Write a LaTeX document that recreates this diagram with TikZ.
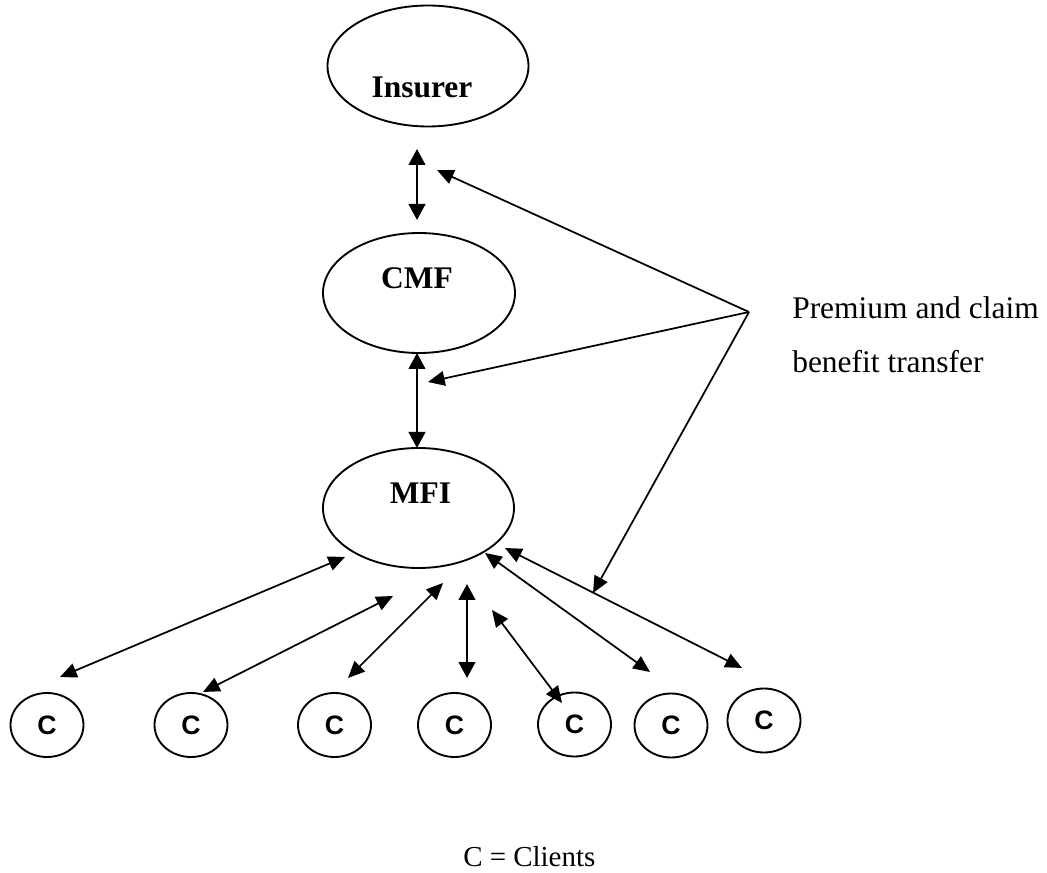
\documentclass[tikz,border=0pt]{standalone}
\usepackage{fontspec}
\setmainfont{Liberation Serif}
\newfontfamily\arialfont{Liberation Sans}
\usetikzlibrary{shapes.geometric,arrows.meta}
\tikzset{
  ell/.style={draw, ellipse, line width=1.4pt, inner sep=0pt, outer sep=0pt},
  bigell/.style={ell, minimum width=144pt, minimum height=90pt},
  client/.style={ell, minimum width=54.75pt, minimum height=48pt,
    font=\arialfont\bfseries\fontsize{20}{24}\selectfont},
  title/.style={font=\bfseries\fontsize{23.6}{28}\selectfont, inner sep=0pt, anchor=base},
  txt/.style={font=\fontsize{23.6}{28}\selectfont, inner sep=0pt, anchor=base west},
  link/.style={line width=1.3pt, {Triangle[length=12.5pt,width=11pt]}-{Triangle[length=12.5pt,width=11pt]}},
  vlink/.style={line width=1.6pt, {Triangle[length=12pt,width=12.5pt]}-{Triangle[length=12pt,width=12.5pt]}},
  pointer/.style={line width=1.3pt, -{Triangle[length=12.5pt,width=11pt]}}
}
\begin{document}
\begin{tikzpicture}[x=0.75pt,y=-0.75pt]
\useasboundingbox (0,0) rectangle (1047,873);
% main ellipses
\node[bigell, minimum width=150.75pt, minimum height=90.75pt] (ins) at (428,66) {};
\node[title] (inst) at (422,98) {Insurer};
\node[bigell] (cmf) at (419,293) {};
\node[title] (cmft) at (417,289) {CMF};
\node[bigell, minimum width=143.25pt] (mfi) at (418.5,508) {};
\node[title] (mfit) at (420.5,504) {MFI};
% clients
\node[client] (c1) at (47,725) {C};
\node[client] (c2) at (191,725) {C};
\node[client] (c3) at (334.5,725) {C};
\node[client] (c4) at (454.5,725) {C};
\node[client] (c5) at (574.5,724.5) {C};
\node[client] (c6) at (671,725.5) {C};
\node[client] (c7) at (764,720.5) {C};
% labels
\node[txt] (prem1) at (792,319) {Premium and claim};
\node[txt] (prem2) at (792,373) {benefit transfer};
\node[font=\fontsize{21.7}{26}\selectfont, inner sep=0pt, anchor=base west] (legend) at (463,866) {C = Clients};
% connector end points
\coordinate (a1) at (417,149); \coordinate (a2) at (417,220);
\coordinate (b1) at (417,353); \coordinate (b2) at (417,448);
\coordinate (hub) at (749,312);
\coordinate (p1) at (437,170); \coordinate (p2) at (428,382); \coordinate (p3) at (593,593);
\coordinate (k1a) at (60,677);  \coordinate (k1b) at (345,557);
\coordinate (k2a) at (203,692); \coordinate (k2b) at (393,596);
\coordinate (k3a) at (348,678); \coordinate (k3b) at (443,583);
\coordinate (k4a) at (467,678); \coordinate (k4b) at (467,584);
\coordinate (k5a) at (562,703); \coordinate (k5b) at (492,610);
\coordinate (k6a) at (650,672); \coordinate (k6b) at (485,553);
\coordinate (k7a) at (742,668); \coordinate (k7b) at (505,548);
% connectors
\draw[vlink] (a1) -- (a2);
\draw[vlink] (b1) -- (b2);
\draw[pointer] (hub) -- (p1);
\draw[pointer] (hub) -- (p2);
\draw[pointer] (hub) -- (p3);
\draw[link] (k1a) -- (k1b);
\draw[link] (k2a) -- (k2b);
\draw[link] (k3a) -- (k3b);
\draw[vlink] (k4a) -- (k4b);
\draw[link] (k5a) -- (k5b);
\draw[link] (k6a) -- (k6b);
\draw[link] (k7a) -- (k7b);
\end{tikzpicture}
\end{document}
